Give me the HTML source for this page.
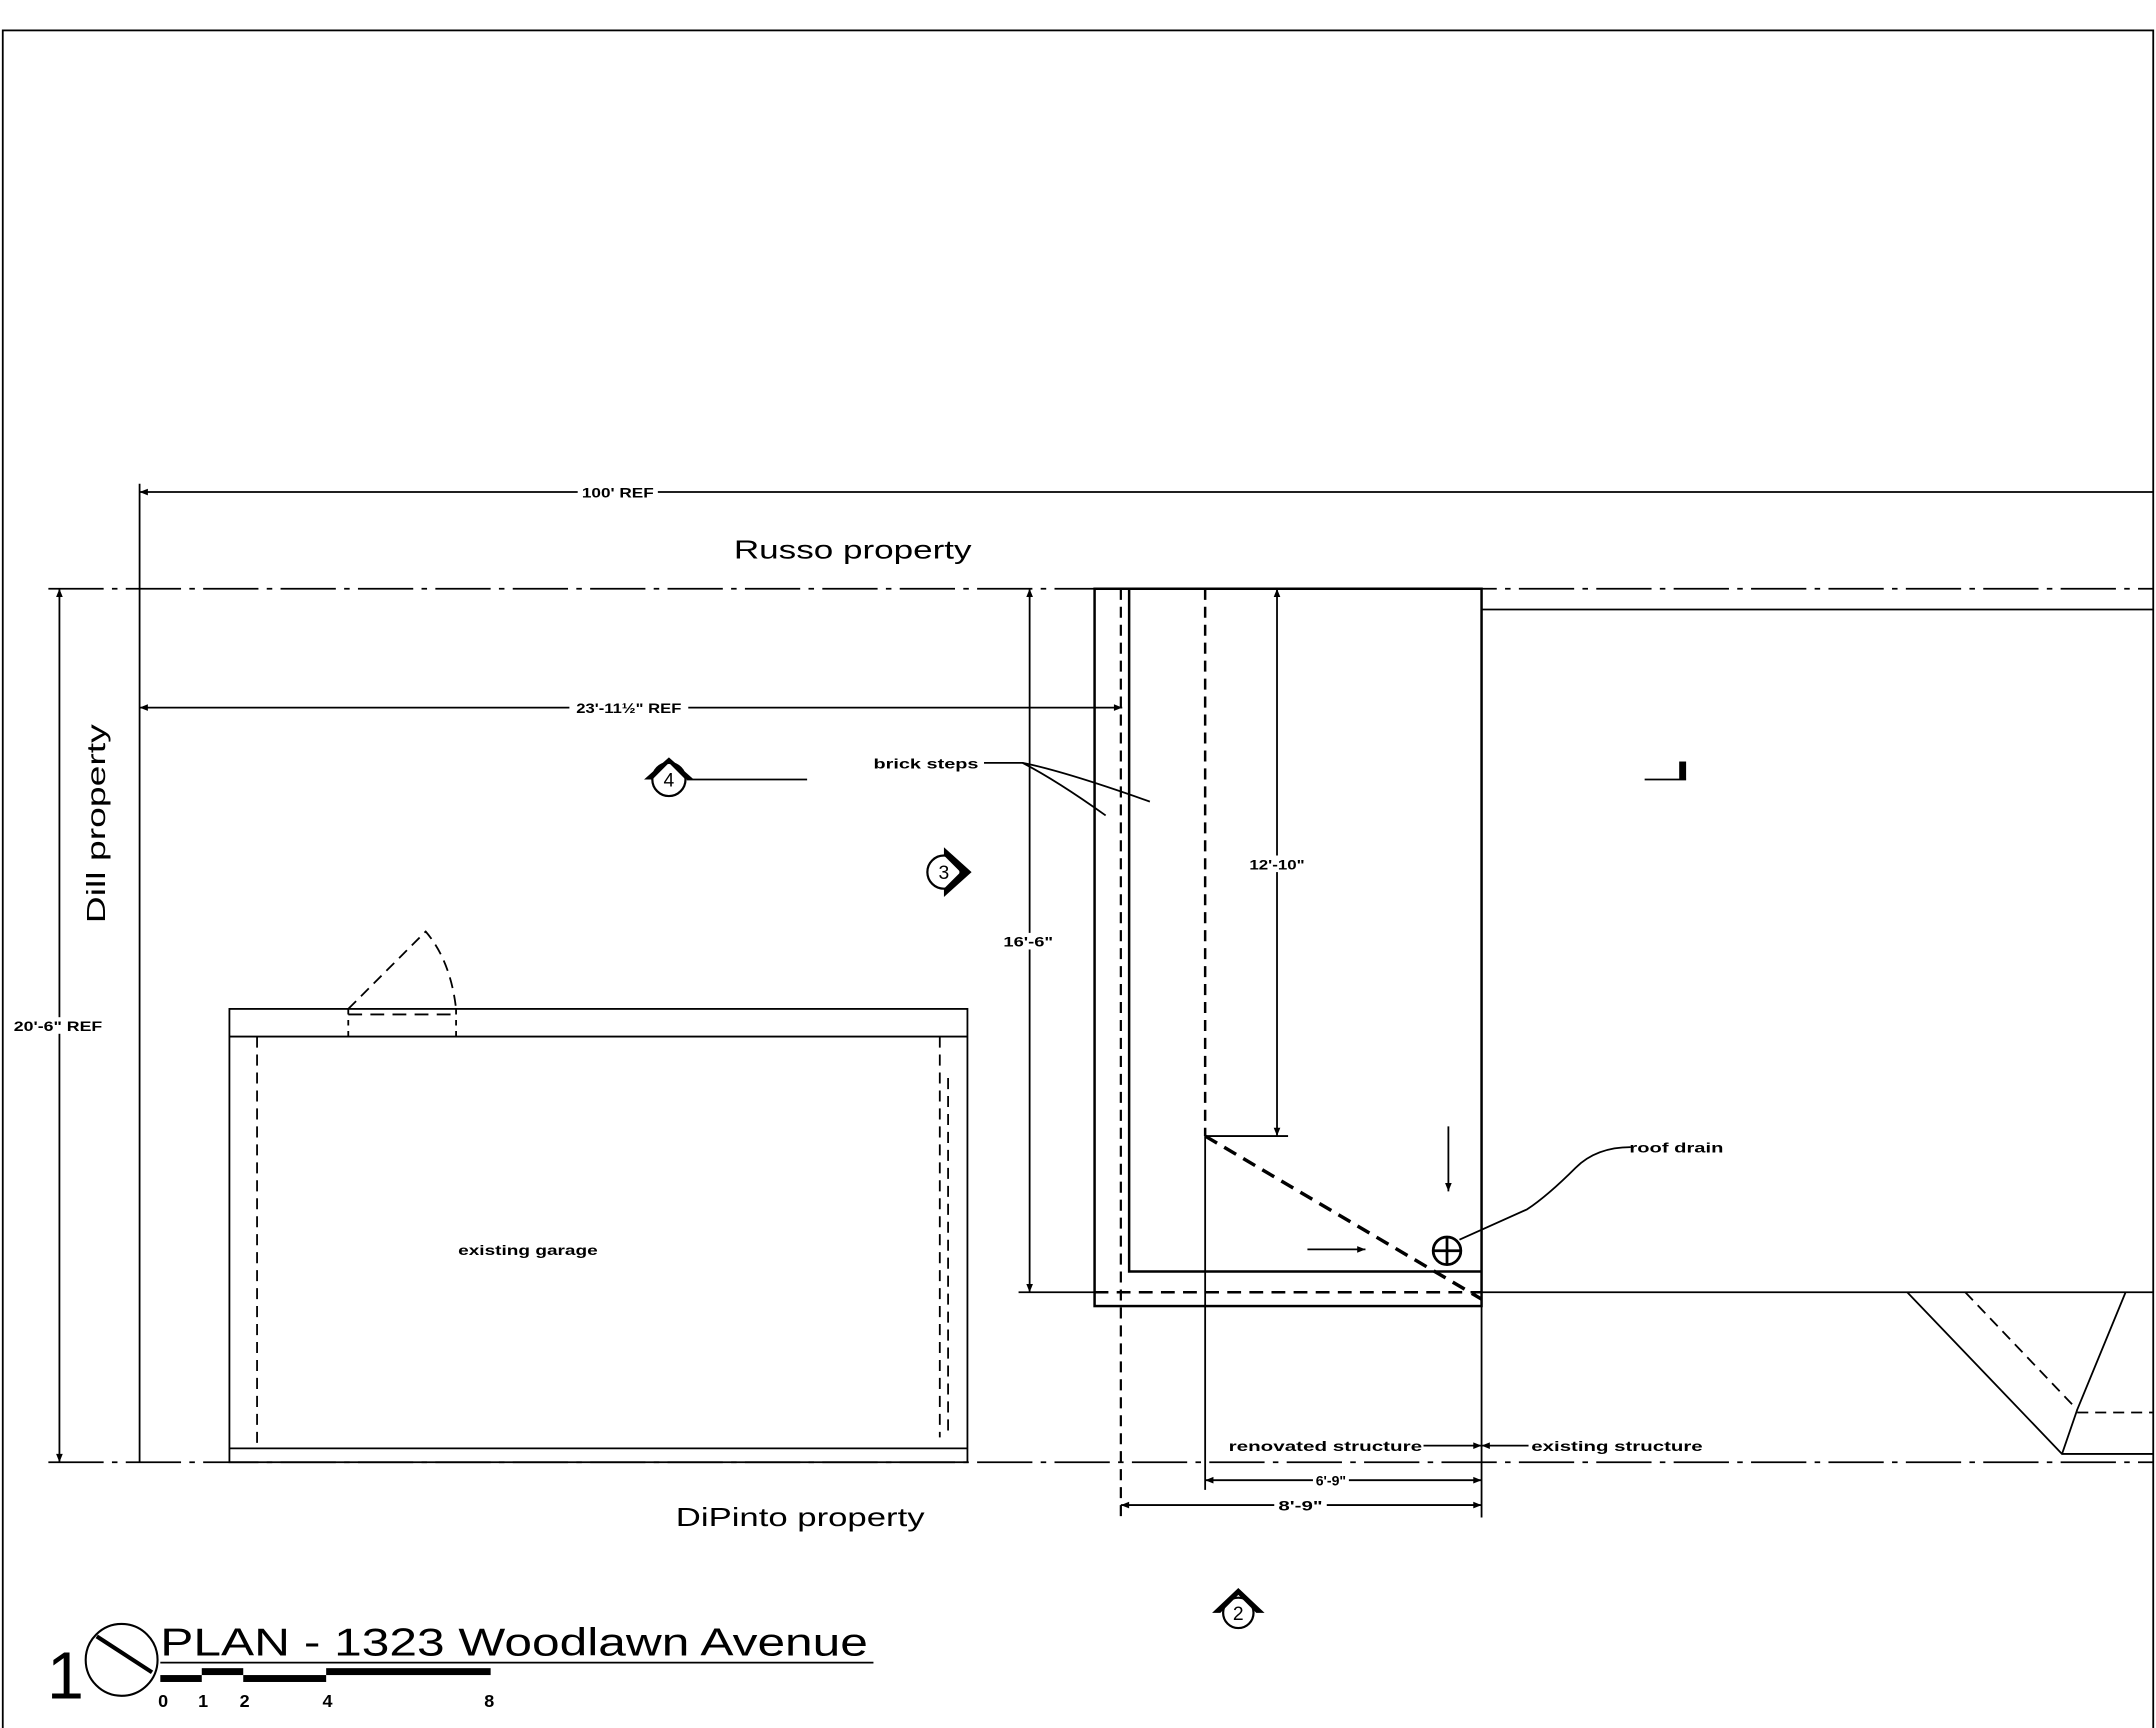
<!DOCTYPE html>
<html><head><meta charset="utf-8"><style>
html,body{margin:0;padding:0;background:#fff;}
svg{display:block;}
text{font-family:"Liberation Sans",sans-serif;fill:#000;}
</style></head><body>
<svg width="2156" height="1728" viewBox="0 0 1560 1250.3" preserveAspectRatio="none" xmlns="http://www.w3.org/2000/svg">
<defs>
<marker id="a" viewBox="0 0 10 10" refX="10" refY="5" markerWidth="8" markerHeight="6" orient="auto-start-reverse" markerUnits="userSpaceOnUse"><path d="M0,1 L10,5 L0,9 z" fill="#000"/></marker>
</defs>
<g stroke="#000" fill="none" stroke-width="1.3">
<rect x="2" y="22" width="1556" height="1234"/>
<line x1="101" y1="356" x2="1558" y2="356" marker-start="url(#a)"/>
<line x1="101" y1="350" x2="101" y2="1058"/>
<line x1="35" y1="426" x2="1558" y2="426" stroke-dasharray="40,6,4,6"/>
<line x1="35" y1="1058" x2="1558" y2="1058" stroke-dasharray="40,6,4,6"/>
<line x1="43" y1="426" x2="43" y2="1058" marker-start="url(#a)" marker-end="url(#a)"/>
<line x1="101" y1="512" x2="812" y2="512" marker-start="url(#a)" marker-end="url(#a)"/>
<line x1="497" y1="564" x2="584" y2="564"/>
<rect x="166" y="730" width="534" height="328"/>
<line x1="166" y1="750" x2="700" y2="750"/>
<line x1="166" y1="1048" x2="700" y2="1048"/>
<line x1="186" y1="750" x2="186" y2="1048" stroke-dasharray="8,5"/>
<line x1="680" y1="750" x2="680" y2="1040" stroke-dasharray="8,5"/>
<line x1="686" y1="780" x2="686" y2="1040" stroke-dasharray="8,5"/>
<path d="M252,730 L308,674 Q326,695 330,730" stroke-dasharray="8,5"/>
<line x1="252" y1="734" x2="330" y2="734" stroke-dasharray="10,6"/>
<line x1="252" y1="730" x2="252" y2="750" stroke-dasharray="4,4"/>
<line x1="330" y1="730" x2="330" y2="750" stroke-dasharray="4,4"/>
<rect x="792" y="426" width="280" height="519" stroke-width="1.8"/>
<path d="M817,426 L817,920 L1072,920" stroke-width="1.8"/>
<line x1="811" y1="426" x2="811" y2="1098" stroke-dasharray="8,5" stroke-width="1.6"/>
<line x1="872" y1="426" x2="872" y2="822" stroke-dasharray="8,5" stroke-width="1.8"/>
<line x1="872" y1="822" x2="1072" y2="940" stroke-dasharray="10,6" stroke-width="2.5"/>
<line x1="792" y1="935" x2="1072" y2="935" stroke-dasharray="10,6" stroke-width="1.8"/>
<line x1="872" y1="822" x2="872" y2="1078"/>
<line x1="1072" y1="945" x2="1072" y2="1098"/>
<line x1="1072" y1="441" x2="1558" y2="441"/>
<line x1="1072" y1="935" x2="1558" y2="935"/>
<line x1="737" y1="935" x2="792" y2="935"/>
<line x1="745" y1="426" x2="745" y2="935" marker-start="url(#a)" marker-end="url(#a)"/>
<line x1="924" y1="426" x2="924" y2="822" marker-start="url(#a)" marker-end="url(#a)"/>
<line x1="872" y1="822" x2="932" y2="822"/>
<path d="M712,552 L740,552 Q770,558 832,580"/>
<path d="M740,552 Q765,565 800,590"/>
<line x1="1048" y1="815" x2="1048" y2="862" marker-end="url(#a)"/>
<line x1="946" y1="904" x2="988" y2="904" marker-end="url(#a)"/>
<circle cx="1047" cy="905" r="10" stroke-width="2"/>
<line x1="1037" y1="905" x2="1057" y2="905" stroke-width="2"/>
<line x1="1047" y1="895" x2="1047" y2="915" stroke-width="2"/>
<path d="M1056,897 L1105,875 Q1120,865 1140,845 Q1155,830 1180,830"/>
<line x1="872" y1="1071" x2="1072" y2="1071" marker-start="url(#a)" marker-end="url(#a)"/>
<line x1="811" y1="1089" x2="1072" y2="1089" marker-start="url(#a)" marker-end="url(#a)"/>
<line x1="1030" y1="1046" x2="1072" y2="1046" marker-end="url(#a)"/>
<line x1="1106" y1="1046" x2="1072" y2="1046" marker-end="url(#a)"/>
<path d="M1380,935 L1492,1052 L1558,1052"/>
<path d="M1538,935 L1503,1020 L1492,1052"/>
<line x1="1422" y1="935" x2="1503" y2="1020" stroke-dasharray="8,5"/>
<line x1="1503" y1="1022" x2="1558" y2="1022" stroke-dasharray="8,5"/>
<line x1="1190" y1="564" x2="1220" y2="564"/>
</g>
<rect x="1215" y="551" width="5" height="13" fill="#000"/>
<g stroke="#000" stroke-width="1.6" fill="#fff">
<circle cx="484" cy="564" r="12"/>
<circle cx="683" cy="631" r="12"/>
<circle cx="896" cy="1167" r="11"/>
</g>
<path d="M466,564 L484,548 L502,564 L496,564 L484,552 L472,564z" fill="#000"/>
<path d="M683,613 L703,631 L683,649 L683,643 L695,631 L683,619z" fill="#000"/>
<path d="M877,1167 L896,1149 L915,1167 L909,1167 L896,1154 L883,1167z" fill="#000"/>
<g font-size="14" text-anchor="middle">
<text x="484" y="569">4</text><text x="683" y="636">3</text><text x="896" y="1172">2</text>
</g>
<g font-size="10" font-weight="bold" text-anchor="middle" lengthAdjust="spacingAndGlyphs">
<rect x="418" y="350" width="58" height="12" fill="#fff"/>
<text x="447" y="360" textLength="52" lengthAdjust="spacingAndGlyphs">100' REF</text>
<rect x="412" y="506" width="86" height="12" fill="#fff"/>
<text x="455" y="516" textLength="76" lengthAdjust="spacingAndGlyphs">23'-11½" REF</text>
<rect x="8" y="736" width="68" height="12" fill="#fff"/>
<text x="42" y="746" textLength="64" lengthAdjust="spacingAndGlyphs">20'-6" REF</text>
<rect x="724" y="675" width="40" height="12" fill="#fff"/>
<text x="744" y="685" textLength="36" lengthAdjust="spacingAndGlyphs">16'-6"</text>
<rect x="902" y="619" width="44" height="12" fill="#fff"/>
<text x="924" y="629" textLength="40" lengthAdjust="spacingAndGlyphs">12'-10"</text>
<text x="670" y="556" textLength="76" lengthAdjust="spacingAndGlyphs">brick steps</text>
<text x="382" y="908" textLength="101" lengthAdjust="spacingAndGlyphs">existing garage</text>
<text x="1213" y="834" textLength="68" lengthAdjust="spacingAndGlyphs">roof drain</text>
<text x="959" y="1050" textLength="140" lengthAdjust="spacingAndGlyphs">renovated structure</text>
<text x="1170" y="1050" textLength="124" lengthAdjust="spacingAndGlyphs">existing structure</text>
<rect x="950" y="1065" width="26" height="12" fill="#fff"/>
<text x="963" y="1075" textLength="22" lengthAdjust="spacingAndGlyphs">6'-9"</text>
<rect x="922" y="1083" width="38" height="12" fill="#fff"/>
<text x="941" y="1093" textLength="32" lengthAdjust="spacingAndGlyphs">8'-9"</text>
</g>
<g font-size="19" text-anchor="middle">
<text x="617" y="404" textLength="172" lengthAdjust="spacingAndGlyphs">Russo property</text>
<text x="579" y="1104" textLength="180" lengthAdjust="spacingAndGlyphs">DiPinto property</text>
<text transform="translate(76,596) rotate(-90)" textLength="144" lengthAdjust="spacingAndGlyphs">Dill property</text>
</g>
<text x="34" y="1229" font-size="48">1</text>
<circle cx="88" cy="1201" r="26" fill="none" stroke="#000" stroke-width="1.5"/>
<line x1="70" y1="1184" x2="110" y2="1210" stroke="#000" stroke-width="3"/>
<text x="116" y="1198" font-size="28" textLength="512" lengthAdjust="spacingAndGlyphs">PLAN - 1323 Woodlawn Avenue</text>
<line x1="116" y1="1203" x2="632" y2="1203" stroke="#000" stroke-width="1.3"/>
<rect x="116" y="1212" width="30" height="5" fill="#000"/>
<rect x="146" y="1207" width="30" height="5" fill="#000"/>
<rect x="176" y="1212" width="60" height="5" fill="#000"/>
<rect x="236" y="1207" width="119" height="5" fill="#000"/>
<g font-size="13" font-weight="bold" text-anchor="middle">
<text x="118" y="1235">0</text><text x="147" y="1235">1</text><text x="177" y="1235">2</text><text x="237" y="1235">4</text><text x="354" y="1235">8</text>
</g>
</svg>
</body></html>
